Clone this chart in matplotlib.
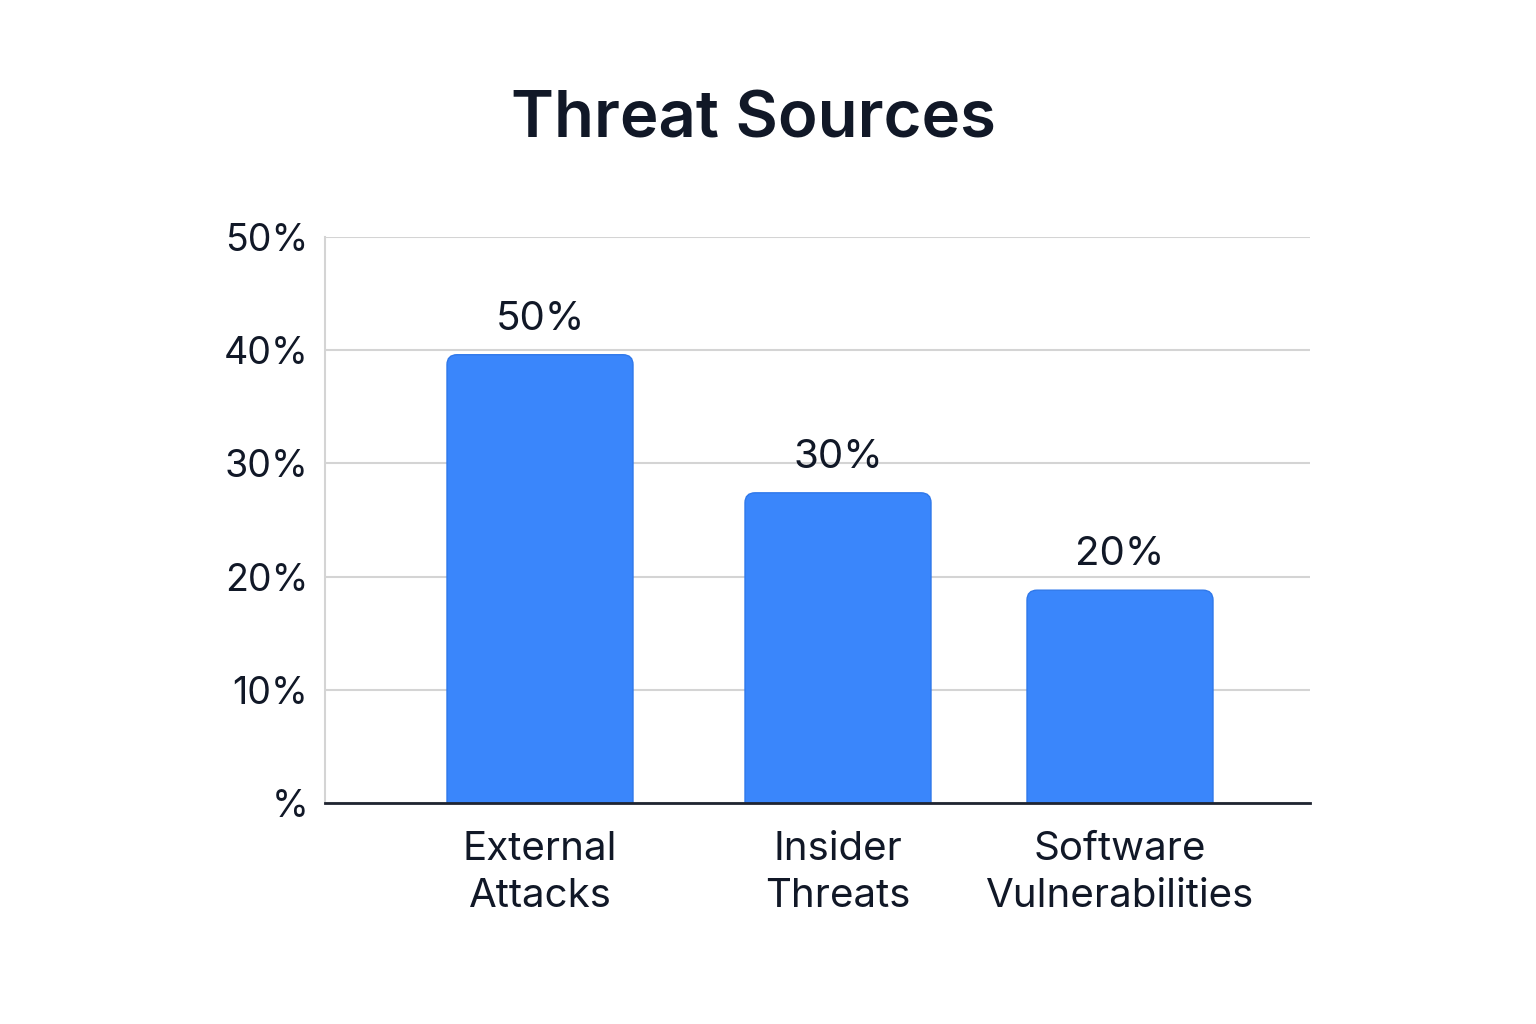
import matplotlib
matplotlib.use("Agg")
import matplotlib.pyplot as plt
from matplotlib.patches import FancyBboxPatch

categorias = ["External\nAttacks", "Insider\nThreats", "Software\nVulnerabilities"]
alturas = [39.6, 27.4, 18.8]          # altura desenhada das barras (%)
rotulos = ["50%", "30%", "20%"]       # texto escrito acima de cada barra
ticks_y = [0, 10, 20, 30, 40, 50]
ticks_y_txt = ["%", "10%", "20%", "30%", "40%", "50%"]

plt.rcParams["font.family"] = ["Inter", "DejaVu Sans"]
azul = "#3a86fb"
texto = "#111827"

fig = plt.figure(figsize=(15.36, 10.24), dpi=100)
ax = fig.add_axes([325 / 1536, 1 - 803 / 1024, 985 / 1536, 566 / 1024])

# eixo x em "pixels" da figura para posicionar as barras como no original
posicoes = [540, 838, 1120]
largura = 186
aspecto = 50 / 566  # unidades de y por pixel
for xi, h, rot in zip(posicoes, alturas, rotulos):
    caixa = FancyBboxPatch((xi - largura / 2, -3), largura, h + 3,
                           boxstyle="round,pad=0,rounding_size=10",
                           mutation_aspect=aspecto, facecolor=azul,
                           edgecolor="#2f78ea", linewidth=1, zorder=3)
    ax.add_patch(caixa)
    ax.text(xi, h + 1.5, rot, ha="center", va="bottom", fontsize=29, color=texto)

ax.set_xlim(325, 1310)
ax.set_ylim(0, 50)
ax.set_yticks(ticks_y)
ax.set_yticklabels(ticks_y_txt)
ax.set_xticks(posicoes)
ax.set_xticklabels(categorias, linespacing=1.35)
ax.tick_params(axis="y", length=0, labelsize=27, colors=texto, pad=12)
ax.tick_params(axis="x", length=0, labelsize=29, colors=texto, pad=20)
ax.grid(axis="y", color="#d4d4d4", linewidth=1.5, zorder=0)
ax.set_axisbelow(True)
for lado in ["top", "right"]:
    ax.spines[lado].set_visible(False)
ax.spines["left"].set_color("#d4d4d4")
ax.spines["left"].set_linewidth(1.5)
ax.spines["bottom"].set_color("#1f2430")
ax.spines["bottom"].set_linewidth(2)
ax.spines["bottom"].set_zorder(4)

fig.text(753 / 1536, 1 - 137 / 1024, "Threat Sources", ha="center", va="baseline",
         fontsize=47, fontweight="semibold", color=texto)

fig.savefig("out.png", dpi=100, facecolor="white")
